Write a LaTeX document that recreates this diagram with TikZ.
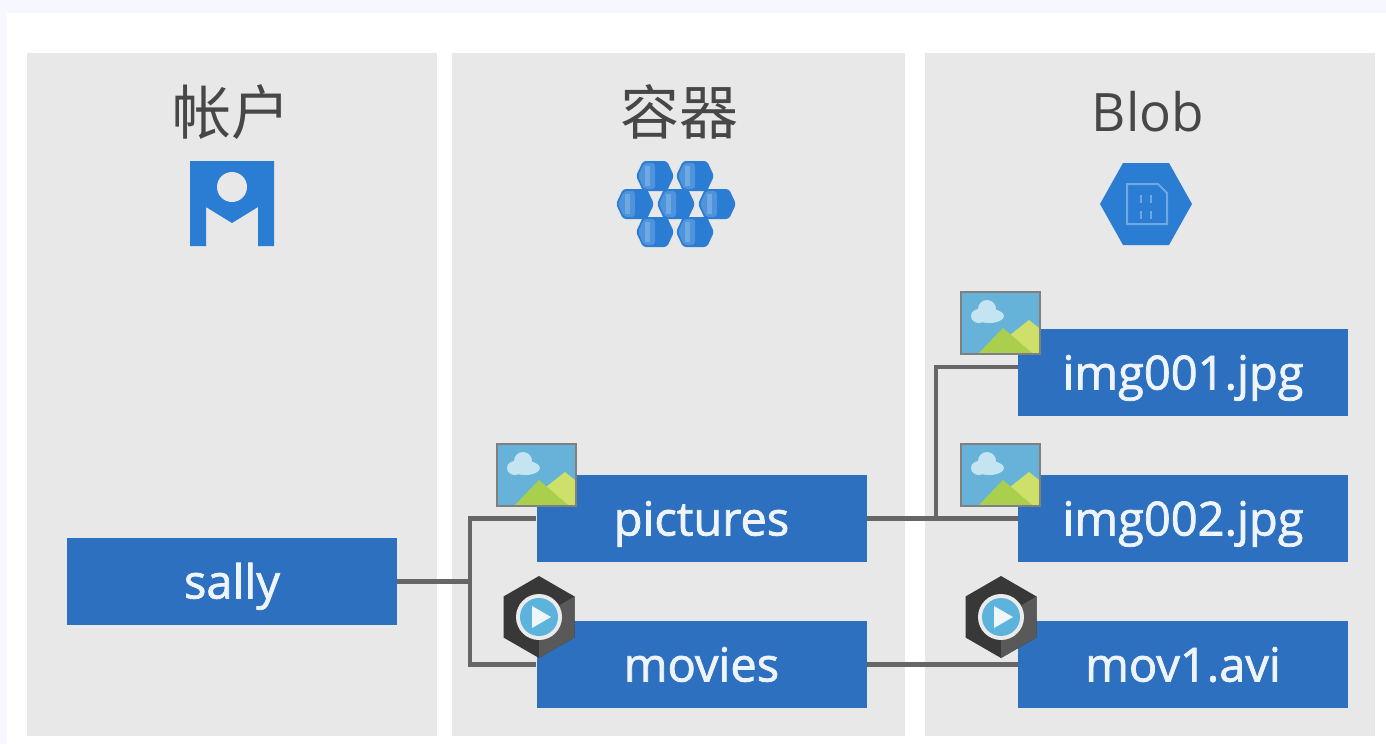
\documentclass[tikz,border=0pt]{standalone}
\usepackage{fontspec}
\setmainfont{Open Sans}
\newfontfamily\cjk{Noto Sans CJK SC}
\newfontfamily\labelfont[RawFeature={embolden=1.6}]{Open Sans}
\usetikzlibrary{positioning}
\definecolor{panelgray}{HTML}{E8E8E8}
\definecolor{boxblue}{HTML}{2C70BF}
\definecolor{iconblue}{HTML}{2B7CD3}
\definecolor{iconmid}{HTML}{4F93DC}
\definecolor{iconlight}{HTML}{6FA9E2}
\definecolor{linkgray}{HTML}{666666}
\definecolor{skyblue}{HTML}{66B2D9}
\definecolor{cloudblue}{HTML}{C4E4F2}
\definecolor{hillleft}{HTML}{A9CF4C}
\definecolor{hillright}{HTML}{CFE06A}
\definecolor{playblue}{HTML}{5CB3DC}
\tikzset{
  panel/.style={fill=panelgray,draw=none},
  bluebox/.style={fill=boxblue,text=white!92!boxblue,minimum width=330pt,minimum height=87pt,inner sep=0pt,text height=36pt,text depth=2pt,font=\labelfont\fontsize{47}{50}\selectfont},
  headtext/.style={text=black!72,inner sep=0pt,font=\fontsize{53}{60}\selectfont},
  linkline/.style={draw=linkgray,line width=4.5pt},
  imgicon/.pic={
    \fill[skyblue] (0,0) rectangle (81,64);
    \fill[cloudblue] (29,25) ellipse (15 and 7) (19,25) ellipse (8 and 7) (27,18) circle (9);
    \fill[hillright] (50,44) -- (69,29) -- (79,37) -- (79,62) -- (60,62) -- cycle;
    \fill[hillleft] (19,62) -- (43,37) -- (72,62) -- cycle;
    \draw[black!50,line width=2.5pt] (1,1) rectangle (80,63);
  },
  movicon/.pic={
    \fill[black!78] (90:41) -- (30:41) -- (-30:41) -- (-90:41) -- (-150:41) -- (150:41) -- cycle;
    \fill[black!65] (90:41) -- (30:41) -- (-30:41) -- (0,0) -- cycle;
    \fill[white!92!black] (0,0) circle (23);
    \fill[playblue] (0,0) circle (19);
    \fill[white!90!skyblue] (-7,-11) -- (-7,11) -- (12,0) -- cycle;
  },
  cellhex/.pic={
    \fill[iconblue,rounded corners=3pt] (-19,0) -- (-12,-15) -- (12,-15) -- (19,0) -- (12,15) -- (-12,15) -- cycle;
    \fill[iconmid,rounded corners=3pt] (-17,0) -- (-11,-13) -- (0,-13) -- (0,13) -- (-11,13) -- cycle;
    \fill[iconlight] (-10,-10) -- (-5,-10) -- (-5,10) -- (-10,10) -- cycle;
  },
}
\begin{document}
\begin{tikzpicture}[x=1pt,y=-1pt]
  \useasboundingbox (0,0) rectangle (1386,744);
  \fill[blue!3!white] (0,0) rectangle (1386,744);
  \fill[white] (7,13) rectangle (1386,744);
  % columns
  \foreach \xa/\xb in {27/437,452/905,925/1375} {
    \fill[panel] (\xa,53) rectangle (\xb,736);
  }
  \node[headtext,font=\cjk\fontsize{59}{60}\selectfont] (acchead) at (231,112) {帐户};
  \node[headtext,font=\cjk\fontsize{59}{60}\selectfont] (conthead) at (679,112) {容器};
  \node[headtext] (blobhead) at (1148,112) {Blob};
  % boxes
  \foreach \name/\x/\y/\s in {sally/232/581.5/sally,pictures/701.5/518.5/pictures,movies/701.5/664.5/movies,
    img001/1183/372.5/img001.jpg,img002/1183/518.5/img002.jpg,mov1/1183/664.5/mov1.avi} {
    \node[bluebox] (\name) at (\x,\y) {\s};
  }
  \coordinate (acctjoin) at (470,581.5);
  \coordinate (blobjoin) at (936,518.5);
  \coordinate (imgjoin) at (img001.west |- 0,367);
  \draw[linkline] (sally) -- (acctjoin);
  \draw[linkline] (pictures.west) -| (acctjoin);
  \draw[linkline] (movies.west) -| (acctjoin);
  \draw[linkline] (pictures) -- (img002);
  \draw[linkline] (imgjoin) -| (blobjoin);
  \draw[linkline] (movies) -- (mov1);
  % small icons
  \foreach \x/\y in {496/443,960/291,960/443} {
    \pic at (\x,\y) {imgicon};
  }
  \foreach \x in {539,1001} {
    \pic at (\x,617) {movicon};
  }
  % account icon
  \fill[iconblue] (190,161) -- (274,161) -- (274,246) -- (258,246) -- (258,207) -- (232,223) -- (206,207) -- (206,246) -- (190,246) -- cycle;
  \fill[panelgray] (232,187) circle (15);
  % container icon
  \foreach \x/\y in {655/176,695/176,635/204,676/204,717/204,655/232,695/232} {
    \pic at (\x,\y) {cellhex};
  }
  % blob icon
  \fill[iconblue] (1100,204) -- (1123,163) -- (1169,163) -- (1192,204) -- (1169,245) -- (1123,245) -- cycle;
  \draw[iconlight,line width=2pt] (1127,186) -- (1127,224) -- (1167,224) -- (1167,193) -- (1158,184) -- (1127,184) -- cycle;
  \foreach \x/\y in {1141/195,1151/195,1141/211,1151/211} {
    \draw[iconlight,line width=2pt] (\x,\y) -- ++(0,8);
  }
\end{tikzpicture}
\end{document}
